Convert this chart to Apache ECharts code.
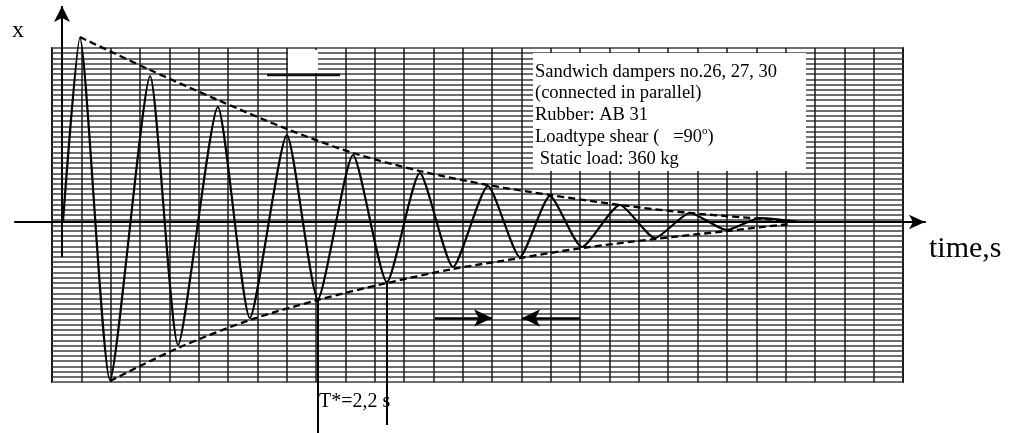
<!DOCTYPE html>
<html><head><meta charset="utf-8">
<script src="https://cdn.jsdelivr.net/npm/echarts@6/dist/echarts.min.js"></script>
<style>html,body{margin:0;padding:0;background:#fff}#c{width:1017px;height:433px}</style>
</head><body><div id="c"></div>
<script>
// recorded oscillation (time in s, displacement in arbitrary units)
const signalTime = [0.03, 0.57, 1.53, 2.81, 3.70, 4.97, 5.99, 7.17, 8.16, 9.28, 10.36, 11.41, 12.47, 13.58, 14.60, 15.56, 16.58, 17.79, 18.91, 20.02, 21.20, 22.26, 23.53];
const signalValue = [0, 18.4, -15.8, 14.6, -12.3, 11.5, -9.6, 8.7, -7.7, 6.7, -6.0, 4.9, -4.5, 3.6, -3.5, 2.6, -2.5, 1.7, -1.6, 0.9, -0.8, 0.4, 0];
// decay envelopes
const upperTime = [0.57, 2.81, 4.97, 7.17, 9.28, 11.41, 13.58, 15.56, 17.79, 20.02, 23.21];
const upperValue = [18.5, 15.2, 12.2, 9.3, 6.9, 5.1, 3.7, 2.7, 1.7, 0.9, 0.1];
const lowerTime = [1.53, 3.70, 5.99, 8.16, 10.36, 12.47, 14.60, 16.58, 18.91, 21.20, 23.21];
const lowerValue = [-15.9, -12.6, -9.8, -7.8, -6.1, -4.7, -3.6, -2.6, -1.7, -0.9, -0.2];
// period markers T*
const periodTime = [8.16, 10.36];
const periodTop = [-7.7, -6.0];
const periodBottom = [-21.1, -20.3];
// arrows
const arrowLevel = -9.6;
const arrowFrom = [11.89, 16.52];
const arrowTo = [13.71, 14.67];
// chart-paper divisions
const paperCols = 29;
const paperRows = 64;
const noteLines = ['Sandwich dampers no.26, 27, 30', '(connected in parallel)', 'Rubber: AB 31', 'Loadtype shear (   =90{s|o})', ' Static load: 360 kg'];

const zip = (a, b) => a.map((v, i) => [v, b[i]]);
const chart = echarts.init(document.getElementById('c'), null, {renderer: 'canvas'});
const serif = 'Liberation Serif, Times New Roman, serif';

chart.setOption({
  animation: false,
  backgroundColor: '#fff',
  grid: [
    {left: 15, right: 92, top: 0, bottom: 0},
    {left: 52, right: 114, top: 48, bottom: 51, show: true, borderColor: '#222', borderWidth: 2}
  ],
  xAxis: [
    {type: 'value', gridIndex: 0, min: -1.4986, max: 27.516,
     axisLine: {show: true, onZero: true, symbol: ['none', 'arrow'], symbolSize: [11, 16], lineStyle: {color: '#000', width: 2.2}},
     axisTick: {show: false}, axisLabel: {show: false}, splitLine: {show: false}},
    {type: 'value', gridIndex: 1, min: 0, max: paperCols, interval: 1,
     axisLine: {show: false}, axisTick: {show: false}, axisLabel: {show: false},
     splitLine: {show: true, lineStyle: {color: '#1a1a1a', width: 1.5}}}
  ],
  yAxis: [
    {type: 'value', gridIndex: 0, min: -21.1, max: 22.2, show: false, splitLine: {show: false}},
    {type: 'value', gridIndex: 1, min: 0, max: paperRows, interval: 1,
     axisLine: {show: false}, axisTick: {show: false}, axisLabel: {show: false},
     splitLine: {show: true, lineStyle: {color: '#6e6e6e', width: 1.8}}}
  ],
  graphic: [
    {type: 'rect', z: 1, shape: {x: 533, y: 53, width: 273, height: 118}, style: {fill: '#fff'}},
    {type: 'rect', z: 1, shape: {x: 288, y: 50, width: 30, height: 23}, style: {fill: '#fff'}},
    {type: 'line', z: 2, shape: {x1: 267, y1: 75, x2: 340, y2: 75}, style: {stroke: '#111', lineWidth: 2.5}},
    {type: 'text', z: 10, left: 12, top: 19, style: {text: 'x', font: '24px ' + serif, fill: '#000'}},
    {type: 'text', z: 10, left: 929, top: 234, style: {text: 'time,s', font: '30px ' + serif, fill: '#000'}},
    {type: 'text', z: 10, left: 319, top: 392, style: {text: 'T*=2,2 s', font: '20px ' + serif, fill: '#000'}},
    {type: 'text', z: 10, left: 535, top: 61, style: {
      text: noteLines.join('\n'), font: '18.5px ' + serif, lineHeight: 21.7, fill: '#000',
      rich: {s: {fontSize: 11, verticalAlign: 'top', padding: [0, 0, 8, 0], fontFamily: serif}}
    }}
  ],
  series: [
    {type: 'line', xAxisIndex: 0, yAxisIndex: 0, data: zip(signalTime, signalValue), smooth: 0.2,
     showSymbol: false, z: 5, lineStyle: {color: '#000', width: 2.2}},
    {type: 'line', xAxisIndex: 0, yAxisIndex: 0, data: zip(upperTime, upperValue), smooth: 0.3,
     showSymbol: false, z: 4, lineStyle: {color: '#000', width: 2.3, type: [7, 4]}},
    {type: 'line', xAxisIndex: 0, yAxisIndex: 0, data: zip(lowerTime, lowerValue), smooth: 0.3,
     showSymbol: false, z: 4, lineStyle: {color: '#000', width: 2.3, type: [7, 4]}},
    {type: 'line', xAxisIndex: 0, yAxisIndex: 0, data: [], z: 6,
     markLine: {silent: true, animation: false, label: {show: false}, symbol: ['none', 'arrow'], symbolSize: [12, 16],
       lineStyle: {color: '#000', width: 2, type: 'solid'},
       data: [[{coord: [0, -3.5]}, {coord: [0, 21.6]}]]}},
    {type: 'line', xAxisIndex: 0, yAxisIndex: 0, data: [], z: 6,
     markLine: {silent: true, animation: false, label: {show: false}, symbol: ['none', 'none'],
       lineStyle: {color: '#000', width: 2, type: 'solid'},
       data: periodTime.map((t, i) => [{coord: [t, periodTop[i]]}, {coord: [t, periodBottom[i]]}])}},
    {type: 'line', xAxisIndex: 0, yAxisIndex: 0, data: [], z: 6,
     markLine: {silent: true, animation: false, label: {show: false}, symbol: ['none', 'arrow'], symbolSize: [13, 18],
       lineStyle: {color: '#000', width: 2.5, type: 'solid'},
       data: arrowFrom.map((t, i) => [{coord: [t, arrowLevel]}, {coord: [arrowTo[i], arrowLevel]}])}}
  ]
});
</script></body></html>
